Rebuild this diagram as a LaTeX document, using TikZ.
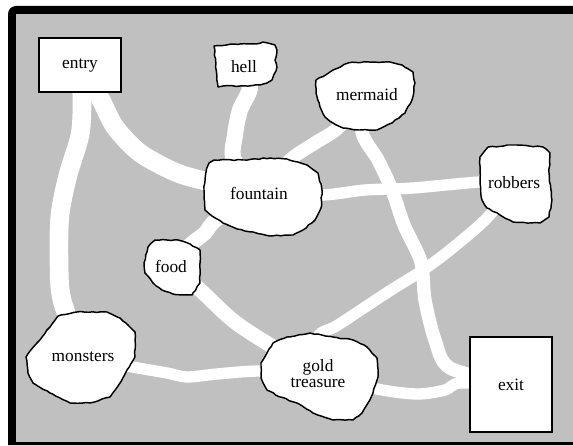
\documentclass[tikz,border=0pt]{standalone}
\usepackage{fontspec}
\setmainfont{Liberation Serif}
\usetikzlibrary{decorations.pathmorphing}
\pgfdeclarelayer{ground}
\pgfdeclarelayer{roads}
\pgfsetlayers{ground,roads,main}
\definecolor{cavegray}{RGB}{192,192,192}
\tikzset{
	road/.style={draw=white, line width=10pt, line join=round, line cap=round},
	wideroad/.style={road, line width=14pt},
	narrowroad/.style={road, line width=8.5pt},
	blob/.style={draw=black, fill=white, line width=1.1pt, line join=round,
		decorate, decoration={random steps, segment length=3pt, amplitude=0.4pt}},
	room/.style={draw=black, fill=white, line width=1.1pt, inner sep=0pt, font=\fontsize{13}{13}\selectfont},
	place/.style={font=\fontsize{13}{13}\selectfont, inner sep=1pt, align=center}}
\tikzset{every picture/.style={line width=0.75pt}}

\begin{document}
\begin{tikzpicture}[x=0.75pt,y=0.75pt,yscale=-1,xscale=1]
	\pgfmathsetseed{7}
	\useasboundingbox (0,0) rectangle (573,445);

	%Frame
	\begin{pgfonlayer}{ground}
	\fill[white] (0,0) rectangle (573,445);
	\fill[black] (8,445) [rounded corners=6] -- (8,6) [sharp corners] -- (573,6) -- (573,445) -- cycle;
	\fill[cavegray] (16,14) rectangle (573,442);
	\end{pgfonlayer}

	%Shape: hell
	\draw[blob] (214,46) -- (240,44) -- (256,44) -- (263,42) -- (275,45) -- (277,50) -- (275,60) -- (277,67) -- (272,80) -- (267,83) -- (260,85) -- (240,86) -- (223,86) -- (218,87) -- cycle;
	%Shape: mermaid
	\draw[blob] (316,80) -- (330,72) -- (348,63) -- (363,62) -- (390,62) -- (402,65) -- (413,72) -- (415,83) -- (412,100) -- (405,113) -- (392,123) -- (377,130) -- (360,130) -- (343,128) -- (333,123) -- (325,117) -- (320,107) -- (316,93) -- cycle;
	%Shape: robbers
	\draw[blob] (480,157) -- (488,147) -- (513,145) -- (543,147) -- (550,153) -- (549,173) -- (552,200) -- (549,217) -- (540,223) -- (513,222) -- (500,215) -- (487,208) -- (482,200) -- (480,183) -- cycle;
	%Shape: fountain
	\draw[blob] (209,163) -- (214,160) -- (243,160) -- (270,158) -- (287,159) -- (307,165) -- (318,173) -- (322,190) -- (321,208) -- (315,220) -- (303,230) -- (293,235) -- (270,236) -- (253,232) -- (237,229) -- (223,223) -- (212,216) -- (205,210) -- (204,190) -- (206,172) -- cycle;
	%Shape: food
	\draw[blob] (155,240) -- (178,240) -- (190,244) -- (200,250) -- (200,283) -- (192,295) -- (173,294) -- (162,290) -- (153,283) -- (145,273) -- (144,263) -- (148,247) -- cycle;
	%Shape: monsters
	\draw[blob] (58,316) -- (77,312) -- (107,312) -- (120,318) -- (128,325) -- (135,332) -- (135,357) -- (127,370) -- (120,383) -- (110,397) -- (90,403) -- (70,403) -- (50,393) -- (33,383) -- (28,373) -- (26,357) -- (37,343) -- (50,327) -- cycle;
	%Shape: gold treasure
	\draw[blob] (273,343) -- (287,337) -- (310,333) -- (333,337) -- (353,340) -- (367,347) -- (377,358) -- (378,377) -- (373,393) -- (368,403) -- (362,413) -- (353,420) -- (333,420) -- (313,413) -- (297,403) -- (280,397) -- (267,390) -- (261,378) -- (261,363) -- (267,353) -- cycle;

	% Text Node
	\node[room, minimum width=61.5pt, minimum height=40.5pt] (entry) at (80,65) {entry};
	\node[room, minimum width=61.5pt, minimum height=71.25pt] (exit) at (511,384.5) {exit};
	\node[place] (hell) at (244,67) {hell};
	\node[place] (mermaid) at (367,95) {mermaid};
	\node[place] (robbers) at (514,183) {robbers};
	\node[place] (fountain) at (259,193) {fountain};
	\node[place] (food) at (171,266) {food};
	\node[place] (monsters) at (83,357) {monsters};
	\node[place] (gold) at (318,374) {gold\\[-1pt]treasure};

	%Roads
	\begin{pgfonlayer}{roads}
	\draw[wideroad] plot[smooth] coordinates {(entry.center) (100,98) (115,127) (140,153) (175,172) (205,181) (fountain.center)};
	\draw[wideroad] plot[smooth] coordinates {(entry.center) (82,100) (80,135) (68,175) (60,215) (59,260) (62,300) (monsters.center)};
	\draw[road, line width=12pt] plot[smooth] coordinates {(hell.center) (250,88) (240,110) (235,135) (234,160) (fountain.center)};
	\draw[road] plot[smooth] coordinates {(mermaid.center) (338,128) (315,143) (290,160) (fountain.center)};
	\draw[road] plot[smooth] coordinates {(mermaid.center) (362,132) (378,160) (392,190) (404,225) (421,262) (425,300) (435,340) (450,368) (exit.center)};
	\draw[narrowroad] plot[smooth] coordinates {(fountain.center) (322,195) (365,190) (413,188) (480,182) (robbers.center)};
	\draw[road, line width=11pt] plot[smooth] coordinates {(fountain.center) (216,220) (205,233) (190,245) (food.center)};
	\draw[narrowroad] plot[smooth] coordinates {(robbers.center) (487,218) (450,250) (423,270) (388,292) (338,325) (318,337) (gold.center)};
	\draw[road, line width=11pt] plot[smooth] coordinates {(food.center) (197,287) (230,318) (257,337) (gold.center)};
	\draw[narrowroad] plot[smooth] coordinates {(monsters.center) (127,366) (167,373) (187,377) (217,374) (260,371) (gold.center)};
	\draw[narrowroad] plot[smooth] coordinates {(gold.center) (377,389) (417,394) (445,390) (460,383) (exit.center)};
	\end{pgfonlayer}

\end{tikzpicture}
\end{document}
